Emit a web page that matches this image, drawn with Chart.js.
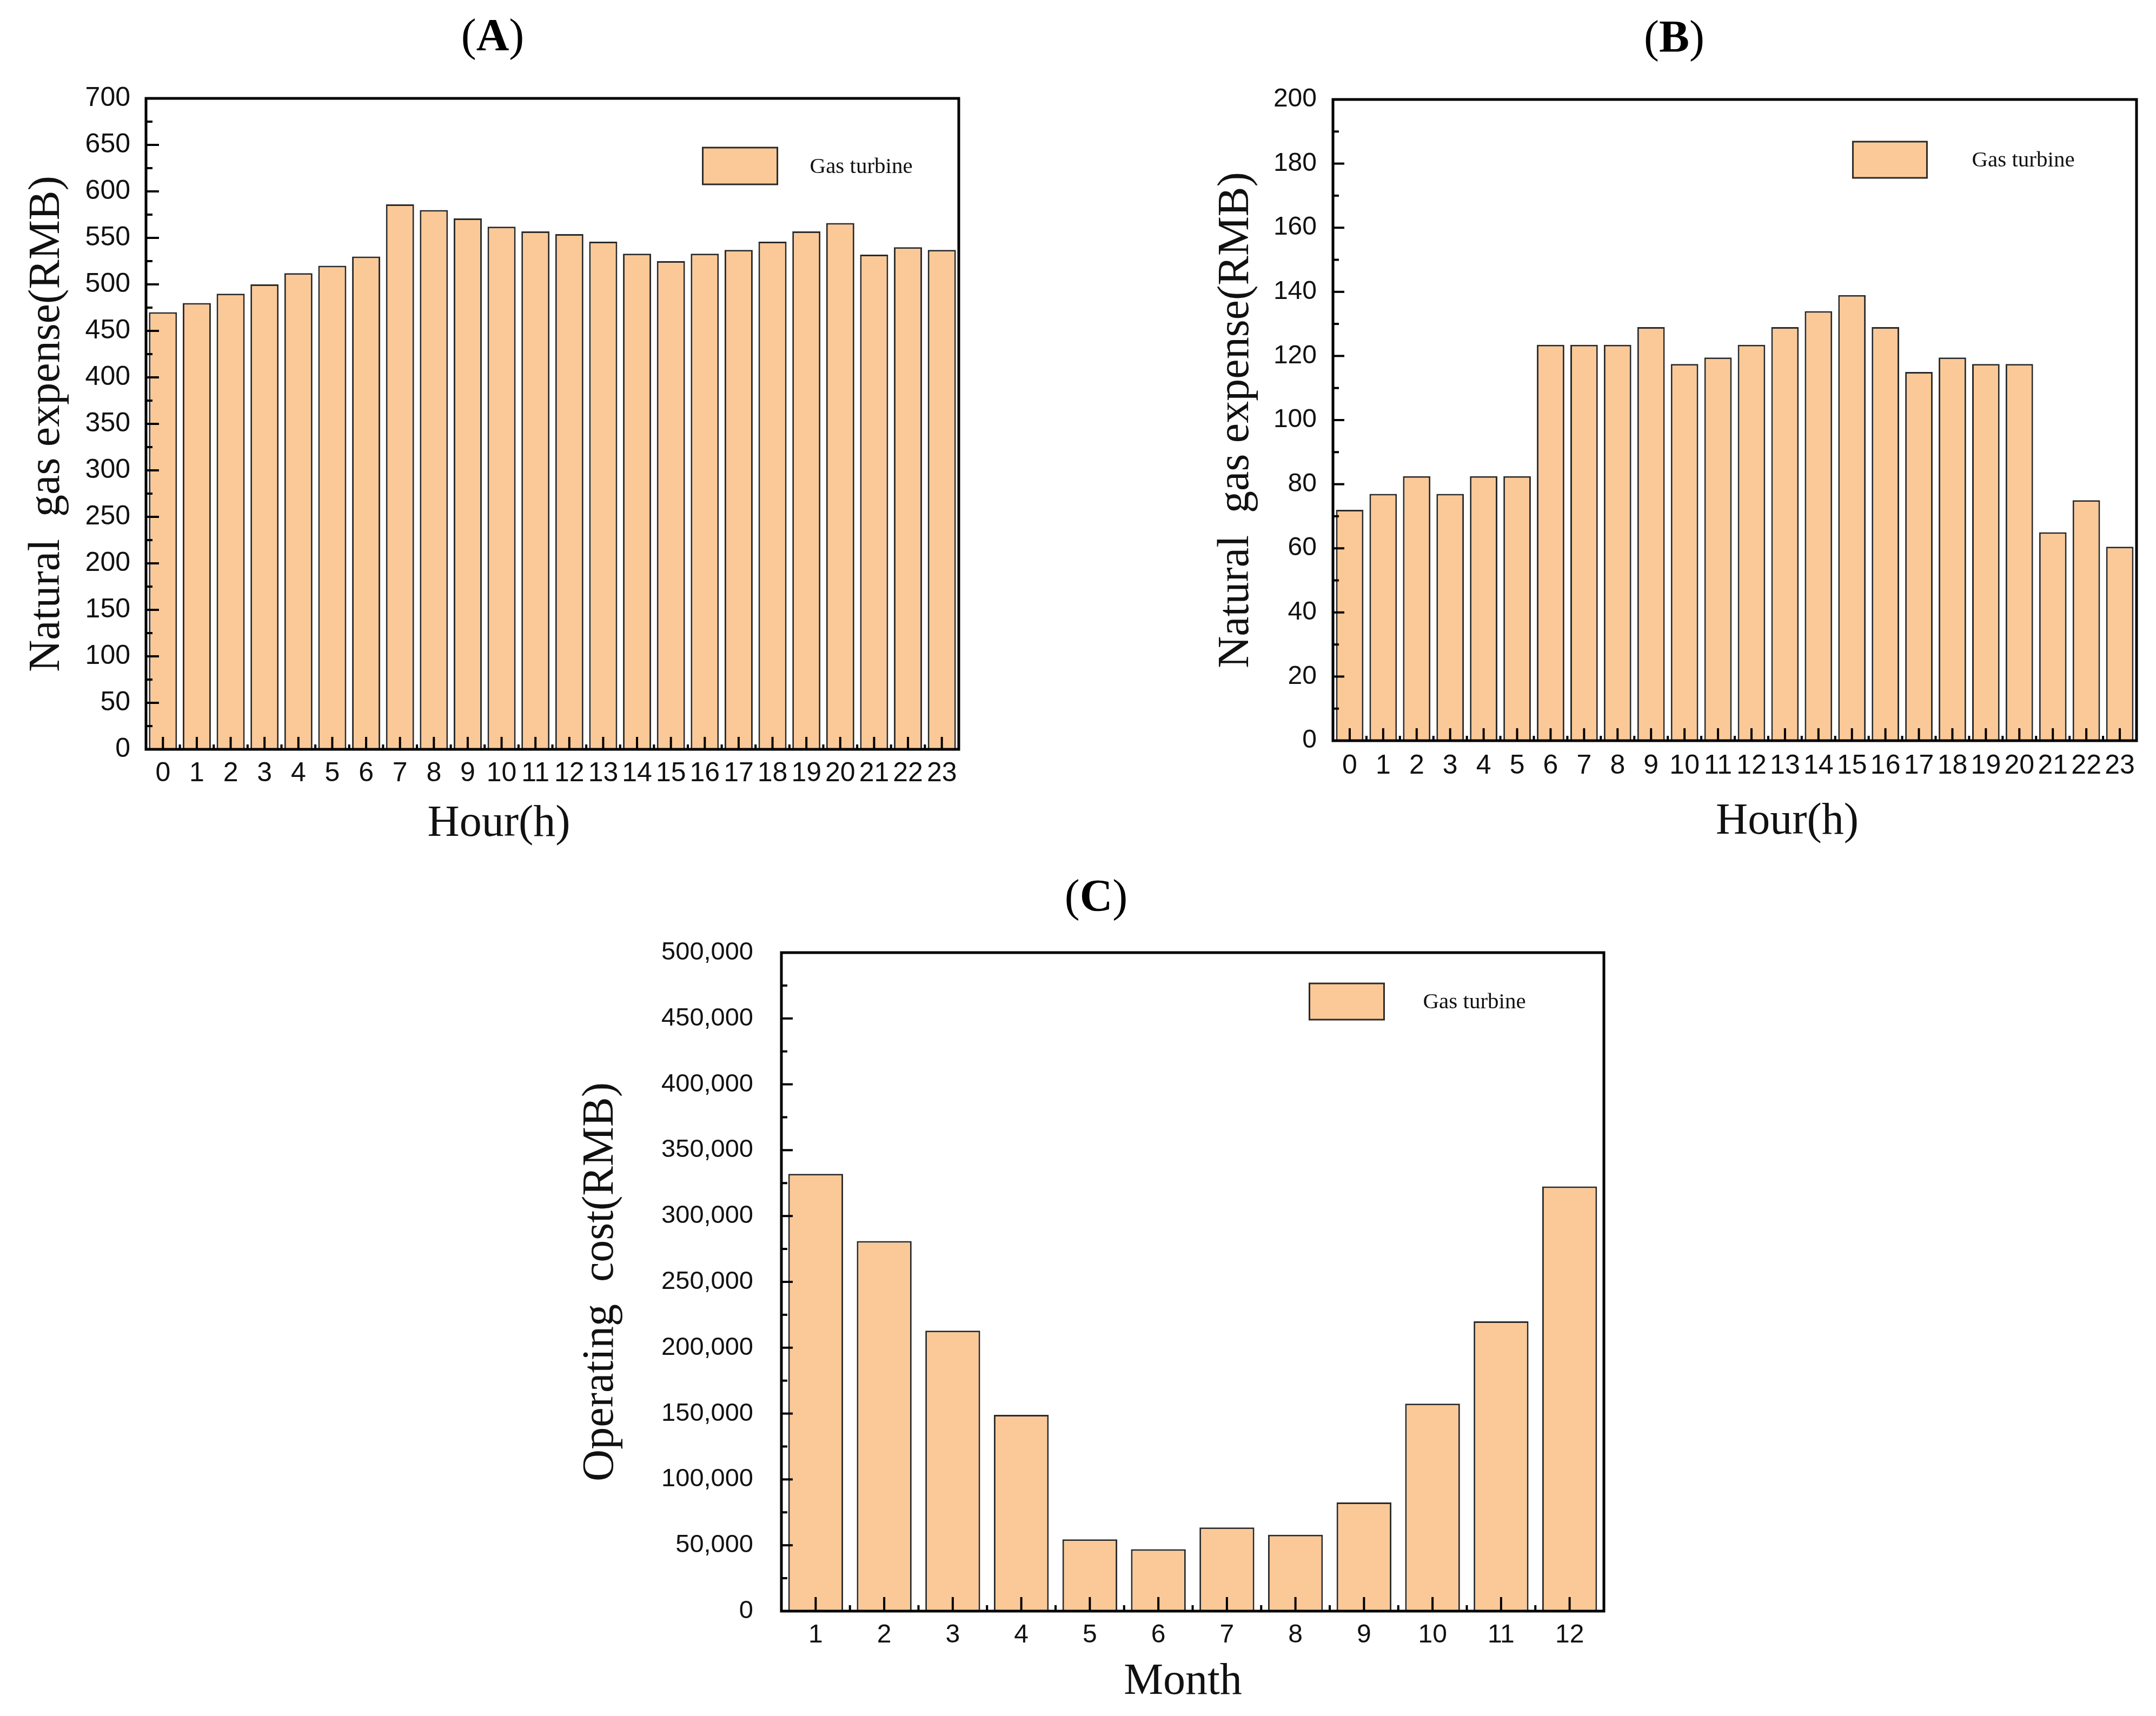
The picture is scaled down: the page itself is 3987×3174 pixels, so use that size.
<!DOCTYPE html>
<html>
<head>
<meta charset="utf-8">
<script src="https://cdn.jsdelivr.net/npm/chart.js@4.4.0/dist/chart.umd.min.js"></script>
<style>
html,body{margin:0;padding:0;background:#fff;}
body{width:3987px;height:3174px;position:relative;overflow:hidden;}
.panel{position:absolute;}
.ptitle{position:absolute;font-family:'Liberation Serif','Times New Roman',serif;font-size:84px;line-height:84px;text-align:center;width:400px;color:#000;white-space:nowrap;}
</style>
</head>
<body>
<div class="ptitle" style="left:711px;top:23px">(<b>A</b>)</div>
<div class="ptitle" style="left:2896px;top:26px">(<b>B</b>)</div>
<div class="ptitle" style="left:1827px;top:1615px">(<b>C</b>)</div>

<div class="panel" style="left:0px;top:122px;width:1800px;height:1478px"><canvas id="chartA"></canvas></div>
<div class="panel" style="left:2200px;top:124px;width:1787px;height:1476px"><canvas id="chartB"></canvas></div>
<div class="panel" style="left:900px;top:1680px;width:2100px;height:1494px"><canvas id="chartC"></canvas></div>

<script>
// ---------------- data ----------------
const hours = ['0','1','2','3','4','5','6','7','8','9','10','11','12','13','14','15','16','17','18','19','20','21','22','23'];
const months = ['1','2','3','4','5','6','7','8','9','10','11','12'];

const gasExpenseA = [470, 480, 490, 500, 512, 520, 530, 586, 580, 571, 562, 557, 554, 546, 533, 525, 533, 537, 546, 557, 566, 532, 540, 537];
const gasExpenseB = [72, 77, 82.5, 77, 82.5, 82.5, 123.5, 123.5, 123.5, 129, 117.5, 119.5, 123.5, 129, 134, 139, 129, 115, 119.5, 117.5, 117.5, 65, 75, 60.5];
const operatingCostC = [332000, 281000, 213000, 149000, 54500, 47000, 63500, 58000, 82500, 157500, 220000, 322500];

const yTicksA = [0,50,100,150,200,250,300,350,400,450,500,550,600,650,700];
const yTicksB = [0,20,40,60,80,100,120,140,160,180,200];
const yTicksC = [0,50000,100000,150000,200000,250000,300000,350000,400000,450000,500000];

const seriesLabel = 'Gas turbine';
const yTitleA = 'Natural  gas expense(RMB)';
const yTitleB = 'Natural  gas expense(RMB)';
const yTitleC = 'Operating  cost(RMB)';
const xTitleHour = 'Hour(h)';
const xTitleMonth = 'Month';

// ---------------- styles ----------------
const BAR_FILL = '#FBC997';
const BAR_EDGE = '#2a2a2a';
const SANS = "'Liberation Sans', Arial, Helvetica, sans-serif";
const SERIF = "'Liberation Serif', 'Times New Roman', Times, serif";
const AXIS_TITLE_SIZE = 82;

Chart.defaults.color = '#000';
Chart.defaults.font.family = SANS;

const axisDecor = {
  id: 'axisDecor',
  afterDraw(chart, args, o) {
    const ctx = chart.ctx, a = chart.chartArea;
    const xs = chart.scales.x, ys = chart.scales.y;
    ctx.save();
    ctx.strokeStyle = '#000';
    ctx.lineCap = 'butt';
    const seg = (x1, y1, x2, y2, w) => {
      ctx.lineWidth = w; ctx.beginPath(); ctx.moveTo(x1, y1); ctx.lineTo(x2, y2); ctx.stroke();
    };
    const yt = ys.ticks.map(t => t.value);
    yt.forEach(v => { const p = ys.getPixelForValue(v); seg(a.left, p, a.left + o.yMajor, p, o.tickW); });
    for (let i = 0; i < yt.length - 1; i++) {
      const p = ys.getPixelForValue((yt[i] + yt[i + 1]) / 2);
      seg(a.left, p, a.left + o.yMinor, p, o.tickW);
    }
    const n = chart.data.labels.length;
    for (let i = 0; i < n; i++) {
      const p = xs.getPixelForValue(i);
      seg(p, a.bottom, p, a.bottom - o.xMajor, o.tickW);
    }
    for (let i = 1; i < n; i++) {
      const p = (xs.getPixelForValue(i - 1) + xs.getPixelForValue(i)) / 2;
      seg(p, a.bottom, p, a.bottom - o.xMinor, o.tickW);
    }
    // legend (inside plot area)
    const ds = chart.data.datasets[0];
    const lx = a.left + o.legendX * a.width, ly = a.top + o.legendY;
    ctx.fillStyle = ds.backgroundColor;
    ctx.fillRect(lx, ly, o.boxW, o.boxH);
    ctx.lineWidth = 3; ctx.strokeStyle = ds.borderColor;
    ctx.strokeRect(lx, ly, o.boxW, o.boxH);
    ctx.fillStyle = '#111';
    ctx.font = o.legendFont;
    ctx.textBaseline = 'middle'; ctx.textAlign = 'left';
    ctx.fillText(ds.label, lx + o.boxW + o.gap, ly + o.boxH / 2 + 2);
    // x-axis title (placed off-centre as in the original figure)
    ctx.font = AXIS_TITLE_SIZE + 'px ' + SERIF;
    ctx.textAlign = 'center'; ctx.textBaseline = 'middle';
    ctx.fillText(xs.options.title.text, (a.left + a.right) / 2 + o.xTitleShift, a.bottom + o.xTitleDy);
    // frame
    ctx.strokeStyle = '#000'; ctx.lineWidth = o.frameW;
    ctx.strokeRect(a.left, a.top, a.width, a.height);
    ctx.restore();
  }
};

function makeChart(id, labels, values, yTicks, fmt, xTitle, yTitle, g) {
  return new Chart(document.getElementById(id), {
    type: 'bar',
    data: {
      labels: labels,
      datasets: [{
        label: seriesLabel,
        data: values,
        backgroundColor: BAR_FILL,
        borderColor: BAR_EDGE,
        borderWidth: 3,
        barPercentage: g.barPct,
        categoryPercentage: 1.0
      }]
    },
    options: {
      responsive: true,
      maintainAspectRatio: false,
      animation: false,
      devicePixelRatio: 1,
      layout: { padding: { top: g.padTop, right: g.padRight, left: 0, bottom: 0 } },
      plugins: {
        legend: { display: false },
        tooltip: { enabled: false },
        axisDecor: g.decor
      },
      scales: {
        x: {
          type: 'category',
          offset: true,
          grid: { display: false, drawTicks: false },
          border: { display: false },
          ticks: { autoSkip: false, maxRotation: 0, minRotation: 0, padding: g.xPad,
                   font: { size: g.xFont, family: SANS }, color: '#111' },
          title: { display: false, text: xTitle, font: { size: AXIS_TITLE_SIZE, family: SERIF, weight: 'normal' },
                   color: '#111' },
          afterFit: (s) => { s.height = g.xHeight; }
        },
        y: {
          type: 'linear',
          min: yTicks[0],
          max: yTicks[yTicks.length - 1],
          grid: { display: false, drawTicks: false },
          border: { display: false },
          afterBuildTicks: (s) => { s.ticks = yTicks.map(v => ({ value: v })); },
          ticks: { padding: g.yPad, font: { size: g.yFont, family: SANS }, color: '#111',
                   callback: (v) => fmt(v) },
          title: { display: true, text: yTitle, font: { size: AXIS_TITLE_SIZE, family: SERIF, weight: 'normal' },
                   color: '#111', padding: { top: g.yTitlePad, bottom: 0 } },
          afterFit: (s) => { s.width = g.yWidth; }
        }
      }
    },
    plugins: [axisDecor]
  });
}

const plain = (v) => String(v);
const thousands = (v) => Number(v).toLocaleString('en-US');

makeChart('chartA', hours, gasExpenseA, yTicksA, plain, xTitleHour, yTitleA, {
  barPct: 0.83, padTop: 60, padRight: 27, yWidth: 270, xHeight: 214,
  xPad: 15, yPad: 29, xFont: 50, yFont: 50, yTitlePad: 38,
  decor: { yMajor: 24, yMinor: 12, xMajor: 23, xMinor: 9, tickW: 4, frameW: 5,
           legendX: 0.685, legendY: 91, boxW: 138, boxH: 68, gap: 60,
           xTitleShift: -99, xTitleDy: 138,
           legendFont: "41px 'Liberation Serif', 'Times New Roman', serif" }
});

makeChart('chartB', hours, gasExpenseB, yTicksB, plain, xTitleHour, yTitleB, {
  barPct: 0.82, padTop: 60, padRight: 36, yWidth: 265, xHeight: 230,
  xPad: 17, yPad: 30, xFont: 50, yFont: 48, yTitlePad: 37,
  decor: { yMajor: 21, yMinor: 11, xMajor: 23, xMinor: 9, tickW: 4, frameW: 5,
           legendX: 0.647, legendY: 78, boxW: 137, boxH: 67, gap: 83,
           xTitleShift: 97, xTitleDy: 150,
           legendFont: "41px 'Liberation Serif', 'Times New Roman', serif" }
});

makeChart('chartC', months, operatingCostC, yTicksC, thousands, xTitleMonth, yTitleC, {
  barPct: 0.8, padTop: 82, padRight: 34, yWidth: 545, xHeight: 194,
  xPad: 16, yPad: 52, xFont: 48, yFont: 47, yTitlePad: 162,
  decor: { yMajor: 21, yMinor: 11, xMajor: 26, xMinor: 11, tickW: 4, frameW: 5,
           legendX: 0.642, legendY: 57, boxW: 138, boxH: 67, gap: 72,
           xTitleShift: -18, xTitleDy: 131,
           legendFont: "41px 'Liberation Serif', 'Times New Roman', serif" }
});
</script>
</body>
</html>
